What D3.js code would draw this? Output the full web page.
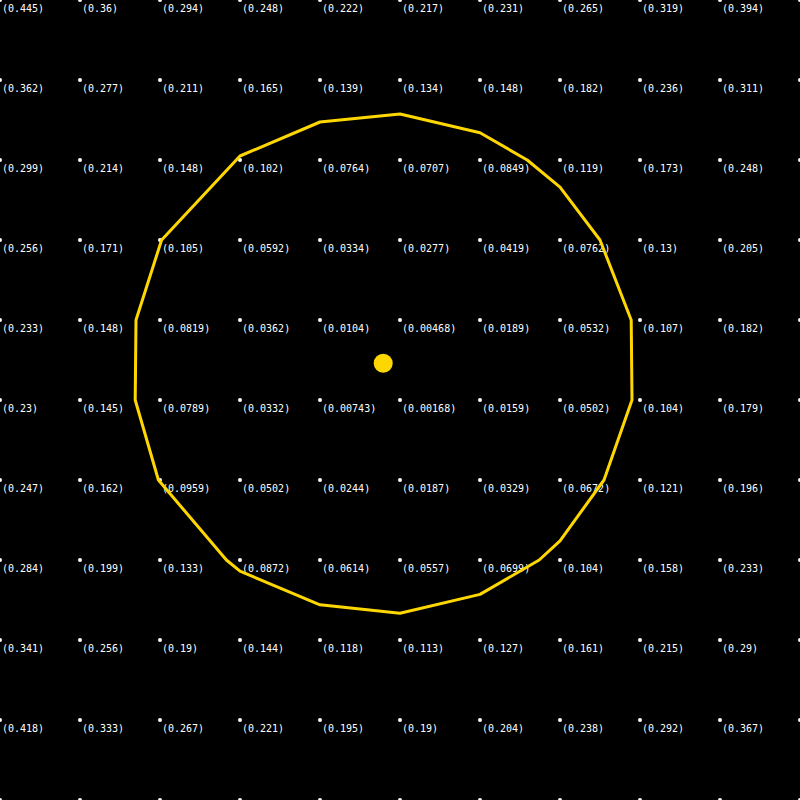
<!DOCTYPE html>
<html>
<head>
<meta charset="utf-8">
<script src="https://cdn.jsdelivr.net/npm/d3@7"></script>
<style>
  body { margin: 0; background: #000; }
  svg { display: block; }
  .lbl { font-family: "DejaVu Sans Mono", monospace; font-size: 10px; fill: #fff; }
</style>
</head>
<body>
<div id="chart"></div>
<script>
// grid positions (column / row index), 0..10
var gridCols = d3.range(11);
var gridRows = d3.range(11);

// label values, row by row (rows 0..9, cols 0..9)
var row0 = [0.445, 0.36, 0.294, 0.248, 0.222, 0.217, 0.231, 0.265, 0.319, 0.394];
var row1 = [0.362, 0.277, 0.211, 0.165, 0.139, 0.134, 0.148, 0.182, 0.236, 0.311];
var row2 = [0.299, 0.214, 0.148, 0.102, 0.0764, 0.0707, 0.0849, 0.119, 0.173, 0.248];
var row3 = [0.256, 0.171, 0.105, 0.0592, 0.0334, 0.0277, 0.0419, 0.0762, 0.13, 0.205];
var row4 = [0.233, 0.148, 0.0819, 0.0362, 0.0104, 0.00468, 0.0189, 0.0532, 0.107, 0.182];
var row5 = [0.23, 0.145, 0.0789, 0.0332, 0.00743, 0.00168, 0.0159, 0.0502, 0.104, 0.179];
var row6 = [0.247, 0.162, 0.0959, 0.0502, 0.0244, 0.0187, 0.0329, 0.0672, 0.121, 0.196];
var row7 = [0.284, 0.199, 0.133, 0.0872, 0.0614, 0.0557, 0.0699, 0.104, 0.158, 0.233];
var row8 = [0.341, 0.256, 0.19, 0.144, 0.118, 0.113, 0.127, 0.161, 0.215, 0.29];
var row9 = [0.418, 0.333, 0.267, 0.221, 0.195, 0.19, 0.204, 0.238, 0.292, 0.367];
var labelRows = [row0, row1, row2, row3, row4, row5, row6, row7, row8, row9];

// contour outline (level 0.1) in grid units
var contourX = [5.0, 6.0, 6.59, 7.0, 7.5, 7.89, 7.9, 7.55, 7.0, 6.74, 6.0, 5.0, 4.0, 3.0, 2.83, 1.98, 1.69, 1.7, 2.02, 3.0, 4.0];
var contourY = [1.425, 1.66, 2.0, 2.34, 3.0, 4.0, 5.0, 6.0, 6.76, 7.0, 7.43, 7.665, 7.56, 7.14, 7.0, 6.0, 5.0, 4.0, 3.0, 1.95, 1.525];

// centre marker
var centre = [4.79, 4.54];

var W = 800, H = 800;

var svg = d3.select("#chart").append("svg")
    .attr("width", W)
    .attr("height", H);

svg.append("rect")
    .attr("width", W)
    .attr("height", H)
    .attr("fill", "#000");

var x = d3.scaleLinear().domain([0, 10]).range([0, W]);
var y = d3.scaleLinear().domain([0, 10]).range([0, H]);

// grid dots
var pts = [];
gridRows.forEach(function(r) {
  gridCols.forEach(function(c) { pts.push({c: c, r: r}); });
});

svg.selectAll(".dot")
    .data(pts)
    .enter()
    .append("circle")
    .attr("class", "dot")
    .attr("cx", function(d) { return x(d.c); })
    .attr("cy", function(d) { return y(d.r); })
    .attr("r", 2)
    .attr("fill", "#fff");

// value labels
var labels = [];
labelRows.forEach(function(row, r) {
  row.forEach(function(v, c) { labels.push({c: c, r: r, v: v}); });
});

svg.selectAll(".lbl")
    .data(labels)
    .enter()
    .append("text")
    .attr("class", "lbl")
    .attr("x", function(d) { return x(d.c) + 2; })
    .attr("y", function(d) { return y(d.r) + 12; })
    .text(function(d) { return "(" + d.v + ")"; });

// contour
var ring = contourX.map(function(cx, i) { return [cx, contourY[i]]; });
var line = d3.line()
    .x(function(d) { return x(d[0]); })
    .y(function(d) { return y(d[1]); })
    .curve(d3.curveLinearClosed);

svg.append("path")
    .datum(ring)
    .attr("d", line)
    .attr("fill", "none")
    .attr("stroke", "#ffd700")
    .attr("stroke-width", 3)
    .attr("stroke-linejoin", "round");

svg.append("circle")
    .attr("cx", x(centre[0]))
    .attr("cy", y(centre[1]))
    .attr("r", 9.5)
    .attr("fill", "#ffd700");
</script>
</body>
</html>
